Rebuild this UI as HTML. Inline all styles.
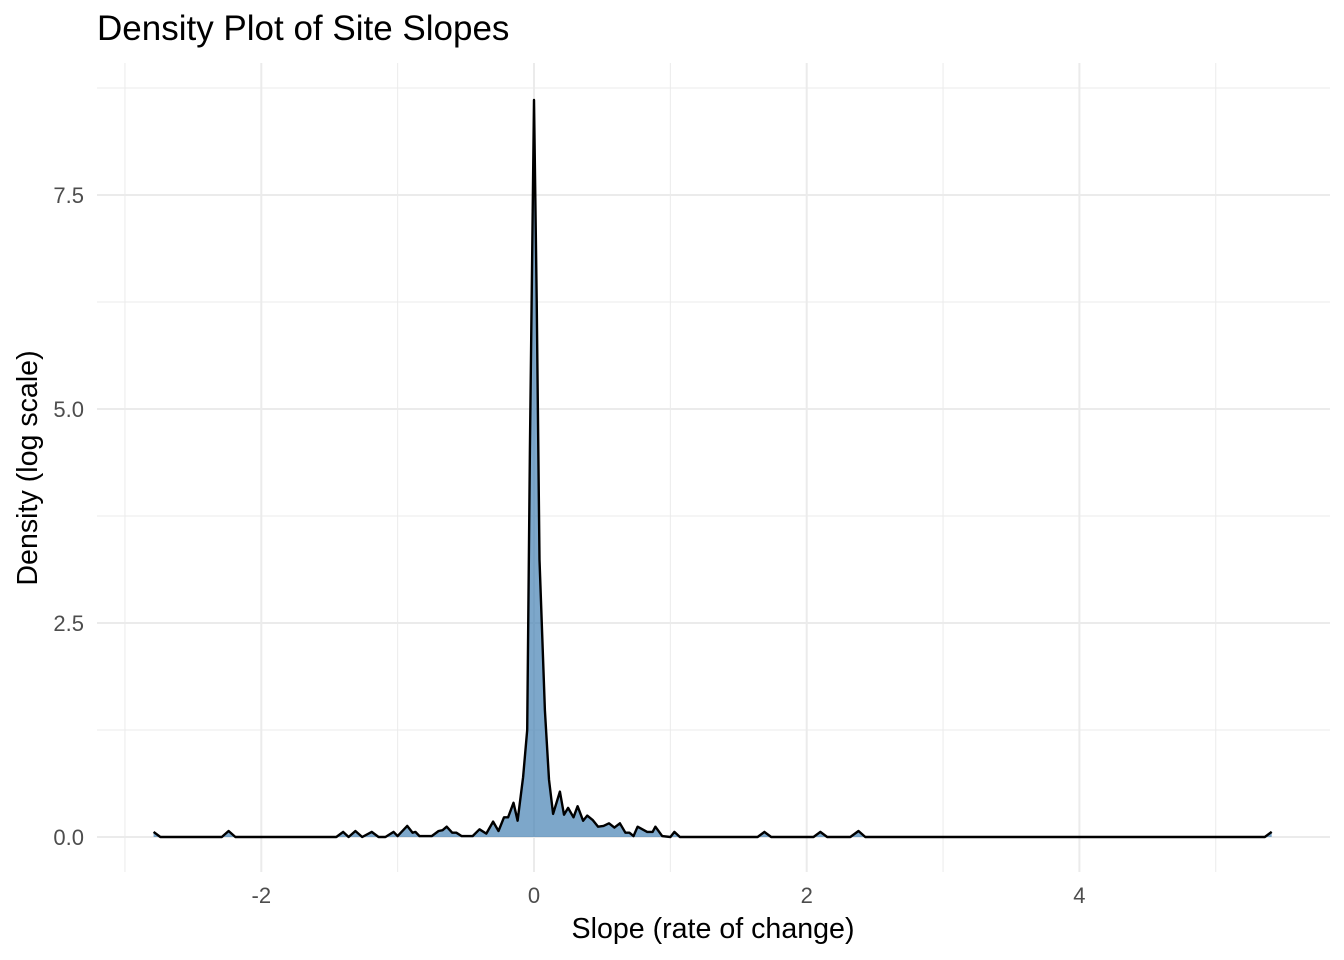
<!DOCTYPE html>
<html><head><meta charset="utf-8"><style>
html,body{margin:0;padding:0;background:#fff;}
svg{display:block;font-family:"Liberation Sans",sans-serif;}
</style></head><body>
<svg id="chart" width="1344" height="960">
<g id="grid"></g>
<g id="marks"></g>
<g id="axes"></g>
<text x="97" y="40" font-size="35" fill="#000">Density Plot of Site Slopes</text>
<text x="713" y="938" font-size="28.6" text-anchor="middle" fill="#000">Slope (rate of change)</text>
<text transform="translate(37,468) rotate(-90)" font-size="28.6" text-anchor="middle" fill="#000">Density (log scale)</text>
</svg>
<script>
const slopeX = [-2.79,-2.74,-2.29,-2.24,-2.19,-1.45,-1.40,-1.36,-1.31,-1.26,-1.19,-1.14,-1.09,-1.03,-1.00,-0.93,-0.89,-0.87,-0.84,-0.75,-0.70,-0.67,-0.64,-0.60,-0.57,-0.53,-0.45,-0.40,-0.35,-0.30,-0.26,-0.22,-0.19,-0.15,-0.12,-0.08,-0.05,-0.03,0,0.02,0.04,0.08,0.11,0.14,0.19,0.22,0.25,0.29,0.32,0.36,0.39,0.43,0.47,0.51,0.55,0.59,0.63,0.67,0.70,0.73,0.76,0.83,0.87,0.89,0.94,1.00,1.03,1.07,1.64,1.69,1.74,2.05,2.10,2.15,2.32,2.38,2.43,5.36,5.41];
const densityY = [0.06,0,0,0.07,0,0,0.06,0,0.07,0,0.06,0,0,0.06,0.01,0.13,0.05,0.06,0.01,0.01,0.07,0.08,0.12,0.05,0.05,0.01,0.01,0.09,0.04,0.18,0.07,0.23,0.23,0.40,0.19,0.70,1.25,4.52,8.61,6.27,3.24,1.48,0.67,0.27,0.53,0.26,0.34,0.23,0.36,0.19,0.25,0.20,0.12,0.13,0.16,0.11,0.16,0.05,0.05,0.01,0.12,0.06,0.06,0.12,0.01,0,0.06,0,0,0.06,0,0,0.06,0,0,0.07,0,0,0.06];
const xTicks = [-2,0,2,4];
const xMinor = [-3,-1,1,3,5];
const yTicks = [0,2.5,5,7.5];
const yTickLabels = ["0.0","2.5","5.0","7.5"];
const yMinor = [1.25,3.75,6.25,8.75];

const L=97,R=1330,T=63,B=872;
const sx=v=>534+v*136.35;
const sy=v=>837-v*85.6;
const NS="http://www.w3.org/2000/svg";
function mk(tag,attrs,parent){const e=document.createElementNS(NS,tag);for(const k in attrs)e.setAttribute(k,attrs[k]);parent.appendChild(e);return e;}
const grid=document.getElementById('grid'),marks=document.getElementById('marks'),axes=document.getElementById('axes');
xMinor.forEach(v=>{const l=mk('line',{x1:sx(v),x2:sx(v),y1:T,y2:B,stroke:'#ebebeb','stroke-width':1},grid);

});
yMinor.forEach(v=>{const l=mk('line',{x1:L,x2:R,y1:sy(v),y2:sy(v),stroke:'#ebebeb','stroke-width':1},grid);

});
xTicks.forEach(v=>{const l=mk('line',{x1:sx(v),x2:sx(v),y1:T,y2:B,stroke:'#ebebeb','stroke-width':2},grid);


const t=mk('text',{x:sx(v),y:903,'font-size':22,'text-anchor':'middle',fill:'#4d4d4d'},axes);
t.textContent=(v<0?'-':'')+Math.abs(v);

});
yTicks.forEach((v,i)=>{const l=mk('line',{x1:L,x2:R,y1:sy(v),y2:sy(v),stroke:'#ebebeb','stroke-width':2},grid);


const t=mk('text',{x:84,y:sy(v)+8,'font-size':22,'text-anchor':'end',fill:'#4d4d4d'},axes);
t.textContent=yTickLabels[i];

});
let line='';slopeX.forEach((x,i)=>{line+=(i?'L':'M')+sx(x).toFixed(1)+','+sy(densityY[i]).toFixed(1);});
const area=line+'L'+sx(slopeX[slopeX.length-1])+','+sy(0)+'L'+sx(slopeX[0])+','+sy(0)+'Z';
const a=mk('path',{d:area,fill:'#4682b4','fill-opacity':0.7,stroke:'none'},marks);


const p=mk('path',{d:line,fill:'none',stroke:'#000','stroke-width':2.4,'stroke-linejoin':'round'},marks);


</script>
</body></html>
